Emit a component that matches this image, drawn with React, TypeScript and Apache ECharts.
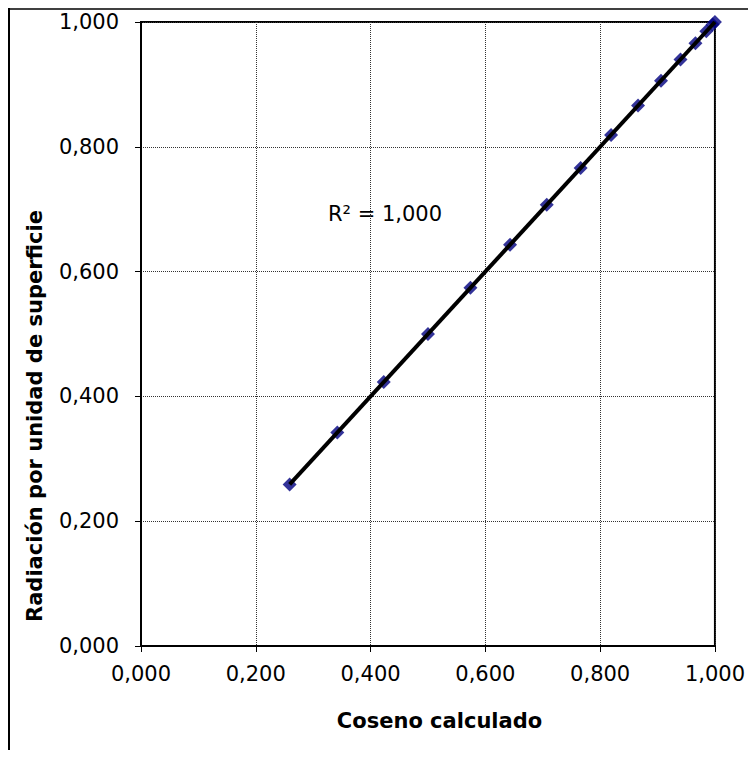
import React, { useEffect, useRef } from "react";
import * as echarts from "echarts";

const cosenoCalculado = [0.259, 0.342, 0.423, 0.5, 0.574, 0.643, 0.707, 0.766, 0.819, 0.866, 0.906, 0.94, 0.966, 0.985, 0.996, 1.0];
const radiacion = [0.259, 0.342, 0.423, 0.5, 0.574, 0.643, 0.707, 0.766, 0.819, 0.866, 0.906, 0.94, 0.966, 0.985, 0.996, 1.0];
const axisTicks = [0, 0.2, 0.4, 0.6, 0.8, 1.0];

const xTitle = "Coseno calculado";
const yTitle = "Radiación por unidad de superficie";

const FONT = "Verdana, 'DejaVu Sans', sans-serif";
const fmt = (v: number) => v.toFixed(3).replace(".", ",");

function regression(xs: number[], ys: number[]) {
  const n = xs.length;
  const mx = xs.reduce((a, b) => a + b, 0) / n;
  const my = ys.reduce((a, b) => a + b, 0) / n;
  let sxy = 0, sxx = 0, syy = 0;
  for (let i = 0; i < n; i++) {
    sxy += (xs[i] - mx) * (ys[i] - my);
    sxx += (xs[i] - mx) ** 2;
    syy += (ys[i] - my) ** 2;
  }
  const slope = sxy / sxx;
  const intercept = my - slope * mx;
  const r2 = (sxy * sxy) / (sxx * syy);
  return { slope, intercept, r2 };
}

export default function App() {
  const ref = useRef<HTMLDivElement>(null);
  useEffect(() => {
    if (!ref.current) return;
    const chart = echarts.init(ref.current, undefined, { renderer: "svg" });
    const { slope, intercept, r2 } = regression(cosenoCalculado, radiacion);
    const xMin = Math.min(...cosenoCalculado);
    const xMax = Math.max(...cosenoCalculado);
    const trend = [
      [xMin, slope * xMin + intercept],
      [xMax, slope * xMax + intercept],
    ];
    const axisCommon = {
      type: "value" as const,
      min: axisTicks[0],
      max: axisTicks[axisTicks.length - 1],
      interval: 0.2,
      axisLine: { show: true, onZero: false, lineStyle: { color: "#000", width: 2 } },
      axisTick: { show: true, length: 6, lineStyle: { color: "#000", width: 1 } },
      splitLine: { show: true, lineStyle: { color: "#333", width: 1, type: [1, 1] as any } },
    };
    chart.setOption({
      animation: false,
      backgroundColor: "#fff",
      grid: {
        left: 133,
        top: 14,
        width: 577,
        height: 624,
        show: true,
        borderColor: "#000",
        borderWidth: 2,
        backgroundColor: "transparent",
      },
      xAxis: {
        ...axisCommon,
        axisLabel: { formatter: fmt, color: "#000", fontFamily: FONT, fontSize: 21, margin: 17 },
      },
      yAxis: {
        ...axisCommon,
        axisLabel: { formatter: fmt, color: "#000", fontFamily: FONT, fontSize: 21, margin: 22 },
      },
      series: [
        {
          type: "scatter",
          data: cosenoCalculado.map((x, i) => [x, radiacion[i]]),
          symbol: "diamond",
          symbolSize: 14,
          itemStyle: { color: "#000080" },
          z: 2,
        },
        {
          type: "line",
          data: trend,
          showSymbol: false,
          symbol: "none",
          lineStyle: { color: "#000", width: 4 },
          z: 3,
        },
      ],
      graphic: [
        { type: "line", shape: { x1: 1, y1: 0, x2: 1, y2: 760 }, style: { stroke: "#000", lineWidth: 2 } },
        { type: "line", shape: { x1: 0, y1: 1, x2: 760, y2: 1 }, style: { stroke: "#000", lineWidth: 1.5 } },
        {
          type: "text",
          x: 320,
          y: 205.5,
          style: {
            text: "R² = " + fmt(r2),
            fill: "#000",
            font: `21px ${FONT}`,
            textAlign: "left",
            textVerticalAlign: "middle",
          },
        },
        {
          type: "text",
          x: 431.5,
          y: 713,
          style: {
            text: xTitle,
            fill: "#000",
            font: `bold 21px ${FONT}`,
            textAlign: "center",
            textVerticalAlign: "middle",
          },
        },
        {
          type: "text",
          x: 27,
          y: 408,
          rotation: Math.PI / 2,
          style: {
            text: yTitle,
            fill: "#000",
            font: `bold 21px ${FONT}`,
            textAlign: "center",
            textVerticalAlign: "middle",
          },
        },
      ],
    });
    return () => chart.dispose();
  }, []);
  return <div ref={ref} style={{ width: 740, height: 742 }} />;
}
